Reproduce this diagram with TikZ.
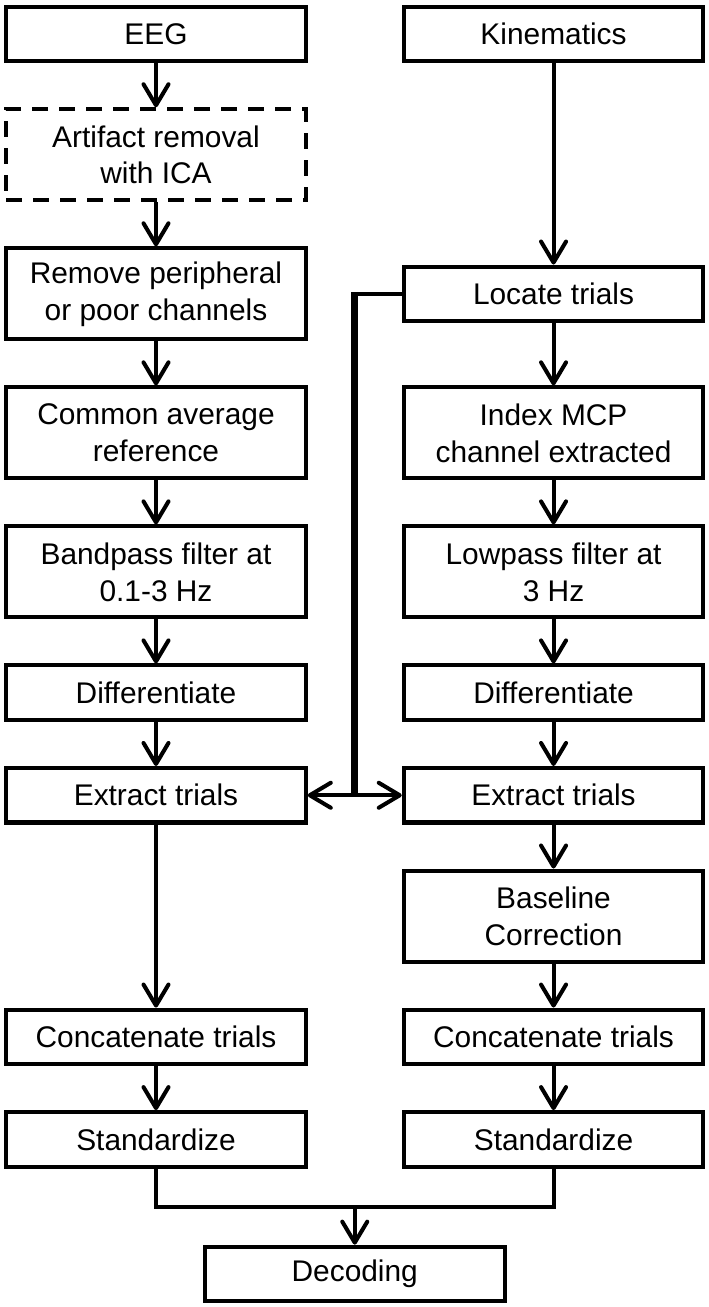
\documentclass[tikz,border=0pt]{standalone}
\usepackage{fontspec}
\setmainfont{Liberation Sans}
\usetikzlibrary{arrows.meta, positioning, calc}

\begin{document}
\begin{tikzpicture}[auto, node distance=0.88cm, >={Straight Barb[length=0.42cm, width=0.5cm, round]}, line width=2.3pt]
        \tikzstyle{block} = [draw, rectangle, minimum height=1.09cm, minimum width=5.99cm, align=center, inner sep=2pt, font=\fontsize{17}{21}\selectfont]
        \tikzstyle{tall} = [block, minimum height=1.82cm]

        \useasboundingbox (-3.12,0.68) rectangle (11.04,-25.46);

        % EEG branch
        \node [block] (eeg) {EEG};
        \node [tall, dashed, dash pattern=on 0.32cm off 0.22cm, below=of eeg] (ica) {Artifact removal\\with ICA};
        \node [tall, below=of ica] (chan) {Remove peripheral\\or poor channels};
        \node [tall, below=of chan] (car) {Common average\\reference};
        \node [tall, below=of car] (bpf) {Bandpass filter at\\0.1-3 Hz};
        \node [block, below=of bpf] (diffL) {Differentiate};
        \node [block, below=of diffL] (extL) {Extract trials};

        % Kinematics branch
        \node [block, right=1.88cm of eeg] (kin) {Kinematics};
        \node [block, right=1.88cm of chan] (locate) {Locate trials};
        \node [tall, right=1.88cm of car] (mcp) {Index MCP\\channel extracted};
        \node [tall, right=1.88cm of bpf] (lpf) {Lowpass filter at\\3 Hz};
        \node [block, right=1.88cm of diffL] (diffR) {Differentiate};
        \node [block, right=1.88cm of extL] (extR) {Extract trials};
        \node [tall, below=of extR] (base) {Baseline\\Correction};
        \node [block, below=of base] (catR) {Concatenate trials};
        \node [block, below=of catR] (stdR) {Standardize};

        % EEG trials concatenated on the same row
        \node [block, left=1.88cm of catR] (catL) {Concatenate trials};
        \node [block, below=of catL] (stdL) {Standardize};

        % Decoding
        \coordinate (merge) at ($($(stdL.south)!0.5!(stdR.south)$)+(0,-0.76)$);
        \node [block, below=0.76cm of merge] (dec) {Decoding};

        % Arrows EEG
        \draw [->] (eeg) -- (ica);
        \draw [->] (ica) -- (chan);
        \draw [->] (chan) -- (car);
        \draw [->] (car) -- (bpf);
        \draw [->] (bpf) -- (diffL);
        \draw [->] (diffL) -- (extL);
        \draw [->] (extL) -- (catL);
        \draw [->] (catL) -- (stdL);

        % Arrows kinematics
        \draw [->] (kin) -- (locate);
        \draw [->] (locate) -- (mcp);
        \draw [->] (mcp) -- (lpf);
        \draw [->] (lpf) -- (diffR);
        \draw [->] (diffR) -- (extR);
        \draw [->] (extR) -- (base);
        \draw [->] (base) -- (catR);
        \draw [->] (catR) -- (stdR);

        % Trial locations sent to both branches
        \coordinate (split) at ($(extL.east)!0.5!(extR.west)$);
        \coordinate (turn) at (split |- locate.west);
        \draw (locate.west) -- (turn);
        \draw [line width=4.2pt] ([yshift=1.15pt]turn) -- (split);
        \draw [->] (split) -- (extL);
        \draw [->] (split) -- (extR);

        % Both branches into decoding
        \draw (stdL) |- (merge) -| (stdR);
        \draw [->] (merge) -- (dec);

    \end{tikzpicture}
\end{document}
